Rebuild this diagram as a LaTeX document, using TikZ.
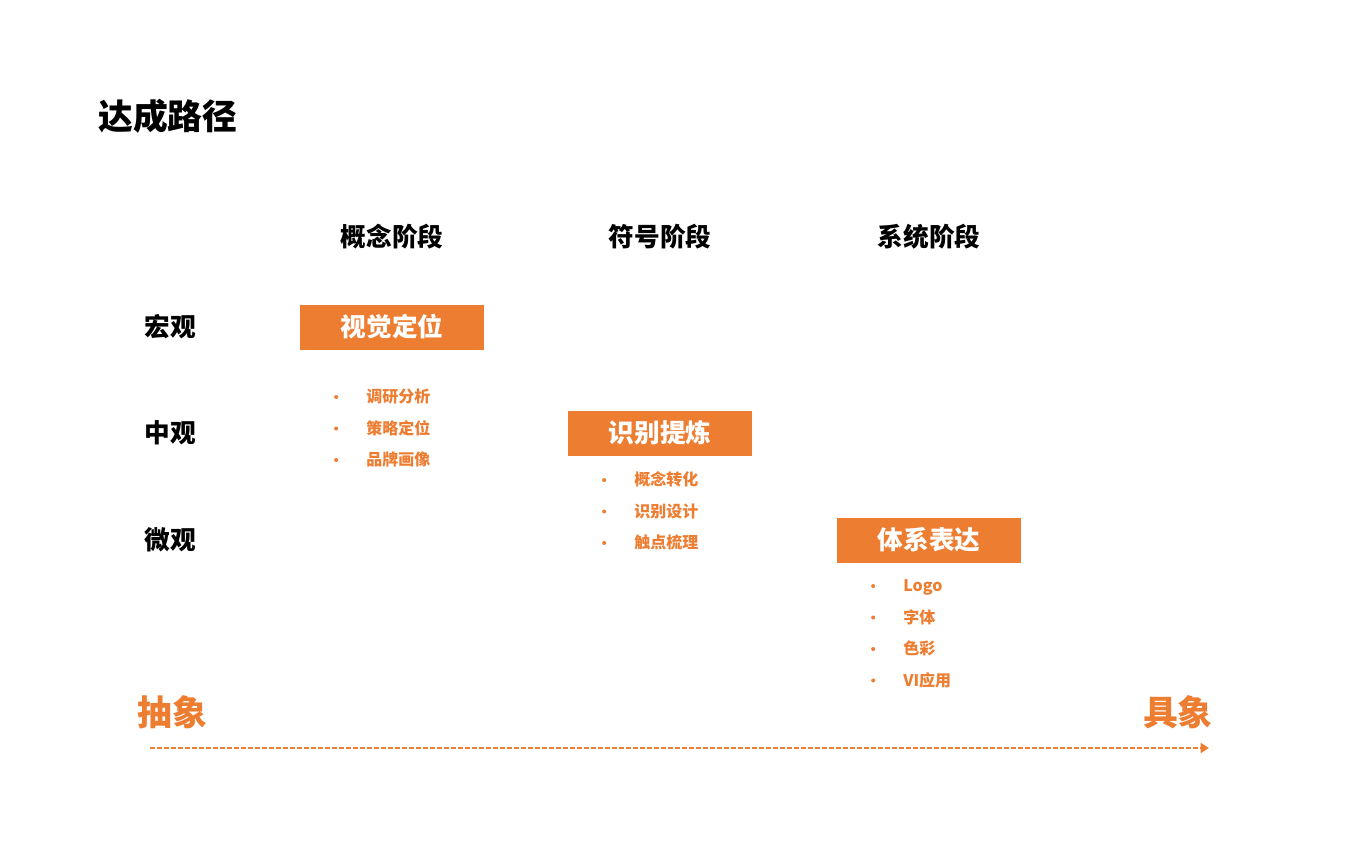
\documentclass[tikz,border=0pt]{standalone}
\usepackage{fontspec}
\setmainfont{Noto Sans CJK SC}
\usetikzlibrary{positioning,arrows.meta}

\begin{document}
\begin{tikzpicture}[x=0.02cm,y=-0.02cm]
    \definecolor{myorange}{RGB}{237,125,49}
    \small  % 字体大小
    \tikzstyle{title}=[inner sep=0pt,font=\fontsize{19.8pt}{22pt}\selectfont\bfseries]  % 标题
    \tikzstyle{head}=[inner sep=0pt,font=\fontsize{14.6pt}{16pt}\selectfont\bfseries]  % 列名,行名
    \tikzstyle{stage}=[rectangle,fill=myorange,text=white,minimum width=3.7cm,minimum height=0.9cm,
        font=\fontsize{14.6pt}{16pt}\selectfont\bfseries]  % 橙色方块
    \tikzstyle{item}=[anchor=west,inner sep=0pt,text=myorange,text height=8pt,text depth=1.5pt,
        font=\fontsize{9.1pt}{10pt}\selectfont\bfseries]  % 列表项
    \tikzstyle{dot}=[circle,fill=myorange,inner sep=0pt,minimum size=0.08cm]  % 圆点
    \tikzstyle{point}=[coordinate]  % 箭头端点

    \useasboundingbox (0,0) rectangle (1366,853);

    % 标题
    \node[title,anchor=west] (title) at (98,116) {达成路径};
    % 列名
    \node[head] (h1) at (392,237) {概念阶段};
    \node[head] (h2) at (660,237) {符号阶段};
    \node[head] (h3) at (929,237) {系统阶段};
    % 行名
    \node[head] (r1) at (170,327) {宏观};
    \node[head] (r2) at (170,433) {中观};
    \node[head] (r3) at (170,540) {微观};
    % 方块
    \node[stage] (s1) at (h1 |- r1) {视觉定位};
    \node[stage] (s2) at (h2 |- r2) {识别提炼};
    \node[stage] (s3) at (h3 |- r3) {体系表达};
    % 列表一
    \node[item] (a1) at (366,397) {调研分析};
    \node[item,below=0.63cm of a1.west,anchor=west] (a2) {策略定位};
    \node[item,below=0.63cm of a2.west,anchor=west] (a3) {品牌画像};
    % 列表二
    \node[item] (b1) at (634,480) {概念转化};
    \node[item,below=0.63cm of b1.west,anchor=west] (b2) {识别设计};
    \node[item,below=0.63cm of b2.west,anchor=west] (b3) {触点梳理};
    % 列表三
    \node[item] (c1) at (903,586) {Logo};
    \node[item,below=0.63cm of c1.west,anchor=west] (c2) {字体};
    \node[item,below=0.63cm of c2.west,anchor=west] (c3) {色彩};
    \node[item,below=0.63cm of c3.west,anchor=west] (c4) {VI应用};
    % 圆点
    \foreach \i in {a1,a2,a3,b1,b2,b3,c1,c2,c3,c4}
        \node[dot,left=0.55cm of \i.west] {};
    % 抽象 -> 具象
    \node[title,anchor=west,text=myorange] (abs) at (137,712) {抽象};
    \node[title,anchor=east,text=myorange] (con) at (1213,712) {具象};
    \node[point] (p1) at (150,748) {};
    \node[point] (p2) at (1209,748) {};
    \draw[myorange,line width=1.3pt,dash pattern=on 0.1cm off 0.04cm,
        -{Triangle[length=0.17cm,width=0.2cm]}] (p1) -- (p2);
\end{tikzpicture}
\end{document}
